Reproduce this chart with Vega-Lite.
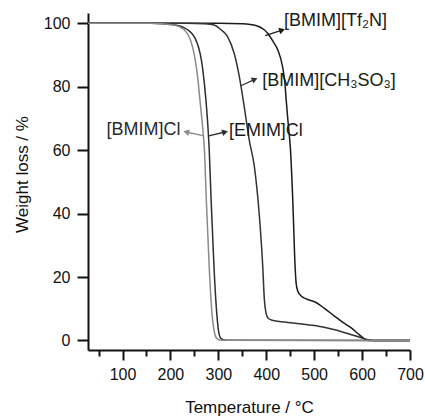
{
  "$schema": "https://vega.github.io/schema/vega-lite/v6.json",
  "width": 322,
  "height": 337,
  "autosize": "none",
  "padding": {"left": 88, "top": 13, "right": 15, "bottom": 67},
  "background": "white",
  "config": {"view": {"stroke": null}, "font": "Liberation Sans"},
  "resolve": {"scale": {"x": "shared", "y": "shared"}, "axis": {"x": "independent"}},
  "datasets": {
    "curves": [
      {"s": "Tf2N", "t": 28, "w": 100}, {"s": "Tf2N", "t": 300, "w": 100}, {"s": "Tf2N", "t": 350, "w": 99.8}, {"s": "Tf2N", "t": 380, "w": 99.2}, {"s": "Tf2N", "t": 395, "w": 98}, {"s": "Tf2N", "t": 403, "w": 96.8}, {"s": "Tf2N", "t": 415, "w": 94}, {"s": "Tf2N", "t": 424, "w": 91.6}, {"s": "Tf2N", "t": 434, "w": 86.3}, {"s": "Tf2N", "t": 439, "w": 81}, {"s": "Tf2N", "t": 441.5, "w": 76}, {"s": "Tf2N", "t": 446, "w": 68}, {"s": "Tf2N", "t": 450.6, "w": 60}, {"s": "Tf2N", "t": 455.4, "w": 44}, {"s": "Tf2N", "t": 460.3, "w": 23}, {"s": "Tf2N", "t": 462.4, "w": 18}, {"s": "Tf2N", "t": 466, "w": 15.5}, {"s": "Tf2N", "t": 473, "w": 14}, {"s": "Tf2N", "t": 485, "w": 13}, {"s": "Tf2N", "t": 501, "w": 12.2}, {"s": "Tf2N", "t": 520, "w": 10.3}, {"s": "Tf2N", "t": 543, "w": 7.6}, {"s": "Tf2N", "t": 560, "w": 5.7}, {"s": "Tf2N", "t": 578, "w": 3.9}, {"s": "Tf2N", "t": 595, "w": 1.7}, {"s": "Tf2N", "t": 606, "w": 0.4}, {"s": "Tf2N", "t": 615, "w": 0}, {"s": "Tf2N", "t": 700, "w": 0},
      {"s": "CH3SO3", "t": 28, "w": 100}, {"s": "CH3SO3", "t": 235, "w": 100}, {"s": "CH3SO3", "t": 270, "w": 99.8}, {"s": "CH3SO3", "t": 291, "w": 99.4}, {"s": "CH3SO3", "t": 305, "w": 98}, {"s": "CH3SO3", "t": 319, "w": 95.8}, {"s": "CH3SO3", "t": 333, "w": 90.5}, {"s": "CH3SO3", "t": 344, "w": 83}, {"s": "CH3SO3", "t": 354, "w": 73.7}, {"s": "CH3SO3", "t": 364.7, "w": 63}, {"s": "CH3SO3", "t": 375, "w": 55}, {"s": "CH3SO3", "t": 385.6, "w": 39.3}, {"s": "CH3SO3", "t": 392.6, "w": 23.5}, {"s": "CH3SO3", "t": 396.1, "w": 12.8}, {"s": "CH3SO3", "t": 399.6, "w": 8.6}, {"s": "CH3SO3", "t": 404, "w": 7}, {"s": "CH3SO3", "t": 412, "w": 6.4}, {"s": "CH3SO3", "t": 438, "w": 5.8}, {"s": "CH3SO3", "t": 470, "w": 5.3}, {"s": "CH3SO3", "t": 501, "w": 4.7}, {"s": "CH3SO3", "t": 543, "w": 3.4}, {"s": "CH3SO3", "t": 578, "w": 1.8}, {"s": "CH3SO3", "t": 600, "w": 0.8}, {"s": "CH3SO3", "t": 613, "w": 0.2}, {"s": "CH3SO3", "t": 625, "w": 0}, {"s": "CH3SO3", "t": 700, "w": 0},
      {"s": "EMIMCl", "t": 28, "w": 100}, {"s": "EMIMCl", "t": 160, "w": 100}, {"s": "EMIMCl", "t": 207, "w": 99.5}, {"s": "EMIMCl", "t": 235, "w": 98}, {"s": "EMIMCl", "t": 256, "w": 93.7}, {"s": "EMIMCl", "t": 267, "w": 86}, {"s": "EMIMCl", "t": 274, "w": 76}, {"s": "EMIMCl", "t": 278, "w": 68}, {"s": "EMIMCl", "t": 281, "w": 60}, {"s": "EMIMCl", "t": 285, "w": 44}, {"s": "EMIMCl", "t": 291, "w": 23}, {"s": "EMIMCl", "t": 297, "w": 8}, {"s": "EMIMCl", "t": 301, "w": 2.5}, {"s": "EMIMCl", "t": 306, "w": 0.6}, {"s": "EMIMCl", "t": 315, "w": 0.1}, {"s": "EMIMCl", "t": 700, "w": 0},
      {"s": "BMIMCl", "t": 28, "w": 100}, {"s": "BMIMCl", "t": 160, "w": 100}, {"s": "BMIMCl", "t": 207, "w": 99.4}, {"s": "BMIMCl", "t": 228, "w": 98}, {"s": "BMIMCl", "t": 246, "w": 92.6}, {"s": "BMIMCl", "t": 256, "w": 84}, {"s": "BMIMCl", "t": 263, "w": 73.7}, {"s": "BMIMCl", "t": 268, "w": 66}, {"s": "BMIMCl", "t": 271, "w": 60}, {"s": "BMIMCl", "t": 275, "w": 44}, {"s": "BMIMCl", "t": 281, "w": 23}, {"s": "BMIMCl", "t": 287, "w": 8}, {"s": "BMIMCl", "t": 292, "w": 2.5}, {"s": "BMIMCl", "t": 297, "w": 0.6}, {"s": "BMIMCl", "t": 305, "w": 0.1}, {"s": "BMIMCl", "t": 700, "w": 0}
    ],
    "arrows": [
      {"s": "Tf2N", "t0": 398, "w0": 96.1, "t1": 433, "w1": 97.8},
      {"s": "CH3SO3", "t0": 346, "w0": 80.2, "t1": 376, "w1": 82.3},
      {"s": "EMIMCl", "t0": 280, "w0": 64.5, "t1": 314, "w1": 65.7},
      {"s": "BMIMCl", "t0": 270, "w0": 64.5, "t1": 233, "w1": 65.7}
    ],
    "labels": [
      {"text": "[BMIM][Tf₂N]", "t": 437, "w": 99.2, "side": "left"},
      {"text": "[BMIM][CH₃SO₃]", "t": 391.5, "w": 80.2, "side": "left"},
      {"text": "[EMIM]Cl", "t": 322, "w": 64.5, "side": "left"},
      {"text": "[BMIM]Cl", "t": 221, "w": 64.8, "side": "right"}
    ]
  },
  "layer": [
    {
      "data": {"name": "curves"},
      "mark": {"type": "line", "strokeWidth": 1.5, "interpolate": "monotone"},
      "encoding": {
        "x": {
          "field": "t", "type": "quantitative",
          "scale": {"domain": [28, 700], "nice": false, "zero": false},
          "axis": {
            "orient": "bottom",
            "title": "Temperature / °C",
            "values": [100, 200, 300, 400, 500, 600, 700],
            "tickSize": 10,
            "grid": false,
            "domainColor": "#111", "domainWidth": 2,
            "tickColor": "#111", "tickWidth": 2,
            "labelFontSize": 16, "labelColor": "#111", "labelPadding": 6,
            "labelOverlap": false, "labelFlush": false,
            "titleFontSize": 17, "titleFontWeight": "normal", "titleColor": "#111",
            "titleBaseline": "alphabetic", "titleY": 62
          }
        },
        "y": {
          "field": "w", "type": "quantitative",
          "scale": {"domain": [-3, 103.2], "nice": false, "zero": false},
          "axis": {
            "title": "Weight loss / %",
            "values": [0, 10, 20, 30, 40, 50, 60, 70, 80, 90, 100],
            "labelExpr": "(datum.value % 20 == 0) ? datum.label : ''",
            "tickSize": {"expr": "((datum.value % 20 == 0) ? 11 : 6)"},
            "grid": false,
            "domainColor": "#111", "domainWidth": 2,
            "tickColor": "#111", "tickWidth": 2,
            "labelFontSize": 16, "labelColor": "#111", "labelPadding": 7,
            "labelOverlap": false, "labelFlush": false,
            "titleFontSize": 17, "titleFontWeight": "normal", "titleColor": "#111",
            "titleBaseline": "alphabetic", "titleX": -61, "titleY": 161, "titleAngle": -90
          }
        },
        "color": {
          "field": "s", "type": "nominal", "legend": null,
          "scale": {"domain": ["Tf2N", "CH3SO3", "EMIMCl", "BMIMCl"], "range": ["#1a1a1a", "#333333", "#2e2e2e", "#8a8a8a"]}
        },
        "detail": {"field": "s"}
      }
    },
    {
      "data": {"name": "arrows"},
      "mark": {"type": "rule", "strokeWidth": 1.3},
      "encoding": {
        "x": {"field": "t0", "type": "quantitative",
          "axis": {"orient": "bottom", "title": null, "values": [50, 150, 250, 350, 450, 550, 650], "tickSize": 6, "tickColor": "#111", "tickWidth": 2, "labels": false, "domain": false, "grid": false}},
        "y": {"field": "w0", "type": "quantitative"},
        "x2": {"field": "t1"},
        "y2": {"field": "w1"},
        "color": {"field": "s", "type": "nominal", "legend": null}
      }
    },
    {
      "data": {"name": "arrows"},
      "transform": [{"filter": "datum.s == 'Tf2N'"}],
      "mark": {"type": "point", "shape": "triangle-right", "filled": true, "size": 45, "angle": 343, "opacity": 1},
      "encoding": {"x": {"field": "t1", "type": "quantitative", "axis": null}, "y": {"field": "w1", "type": "quantitative"}, "color": {"field": "s", "type": "nominal", "legend": null}}
    },
    {
      "data": {"name": "arrows"},
      "transform": [{"filter": "datum.s == 'CH3SO3'"}],
      "mark": {"type": "point", "shape": "triangle-right", "filled": true, "size": 45, "angle": 336, "opacity": 1},
      "encoding": {"x": {"field": "t1", "type": "quantitative", "axis": null}, "y": {"field": "w1", "type": "quantitative"}, "color": {"field": "s", "type": "nominal", "legend": null}}
    },
    {
      "data": {"name": "arrows"},
      "transform": [{"filter": "datum.s == 'EMIMCl'"}],
      "mark": {"type": "point", "shape": "triangle-right", "filled": true, "size": 45, "angle": 345, "opacity": 1},
      "encoding": {"x": {"field": "t1", "type": "quantitative", "axis": null}, "y": {"field": "w1", "type": "quantitative"}, "color": {"field": "s", "type": "nominal", "legend": null}}
    },
    {
      "data": {"name": "arrows"},
      "transform": [{"filter": "datum.s == 'BMIMCl'"}],
      "mark": {"type": "point", "shape": "triangle-right", "filled": true, "size": 45, "angle": 193, "opacity": 1},
      "encoding": {"x": {"field": "t1", "type": "quantitative", "axis": null}, "y": {"field": "w1", "type": "quantitative"}, "color": {"field": "s", "type": "nominal", "legend": null}}
    },
    {
      "data": {"name": "labels"},
      "transform": [{"filter": "datum.side == 'left'"}],
      "mark": {"type": "text", "align": "left", "baseline": "alphabetic", "fontSize": 18, "color": "#1a1a1a"},
      "encoding": {"x": {"field": "t", "type": "quantitative", "axis": null}, "y": {"field": "w", "type": "quantitative"}, "text": {"field": "text"}}
    },
    {
      "data": {"name": "labels"},
      "transform": [{"filter": "datum.side == 'right'"}],
      "mark": {"type": "text", "align": "right", "baseline": "alphabetic", "fontSize": 18, "color": "#2a2a2a"},
      "encoding": {"x": {"field": "t", "type": "quantitative", "axis": null}, "y": {"field": "w", "type": "quantitative"}, "text": {"field": "text"}}
    }
  ]
}
